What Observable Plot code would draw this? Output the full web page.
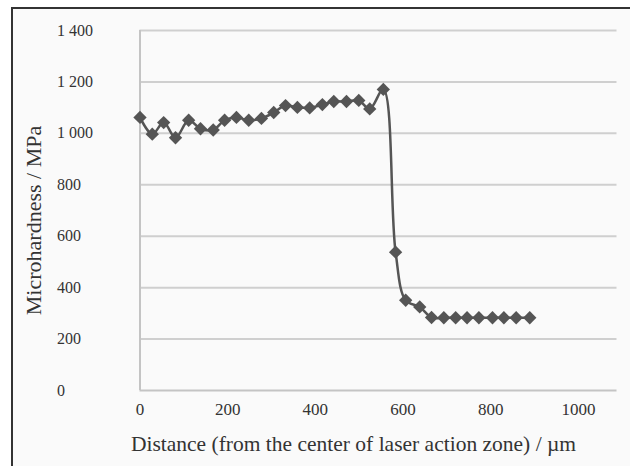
<!DOCTYPE html>
<html>
<head>
<meta charset="utf-8">
<script src="https://cdn.jsdelivr.net/npm/d3@7"></script>
<script src="https://cdn.jsdelivr.net/npm/@observablehq/plot@0.6"></script>
<style>
  html, body { margin: 0; padding: 0; background: #ffffff; }
  #wrap { position: relative; width: 630px; height: 466px; overflow: hidden; }
  #wrap::before {
    content: ""; position: absolute; left: 11px; top: 7px; right: 0; bottom: 0;
    border-left: 2px solid #333; border-top: 2px solid #333; background: #fafafa;
    z-index: 0;
  }
  #wrap svg { position: relative; z-index: 1; background: transparent; }
</style>
</head>
<body>
<div id="wrap"></div>
<script>
// Distance from the center of laser action zone (µm)
const distance = [0, 28, 54, 81, 111, 138, 167, 193, 220, 248, 277, 305, 332, 359, 387, 416, 442, 471, 499, 524,
                  555, 583, 606, 638, 665, 693, 720, 746, 773, 804, 830, 858, 889];
// Microhardness (MPa)
const hardness = [1062, 997, 1042, 983, 1051, 1018, 1013, 1051, 1062, 1051, 1058, 1081, 1108, 1101, 1099, 1112, 1124, 1124, 1128, 1095,
                  1171, 538, 351, 325, 284, 283, 283, 283, 283, 283, 283, 283, 283];
const xTicks = [0, 200, 400, 600, 800, 1000];
const yTicks = [0, 200, 400, 600, 800, 1000, 1200, 1400];
const xTitle = "Distance (from the center of laser action zone) / µm";
const yTitle = "Microhardness / MPa";

const data = distance.map((d, i) => ({x: d, y: hardness[i]}));
const font = "Liberation Serif";
const fmt = d => d3.format(",")(d).replace(",", " ");

const chart = Plot.plot({
  width: 630, height: 466,
  marginLeft: 139.5, marginRight: 13.5, marginTop: 30, marginBottom: 76,
  style: {fontFamily: font, background: "transparent", color: "#333"},
  x: {domain: [0, 1088]},
  y: {domain: [0, 1400]},
  marks: [
    Plot.gridY(yTicks.filter(d => d > 0), {stroke: "#cfcfcf", strokeOpacity: 1, strokeWidth: 2}),
    Plot.ruleX([0], {stroke: "#c4c4c4", strokeWidth: 2}),
    Plot.ruleY([0], {stroke: "#c4c4c4", strokeWidth: 2}),
    Plot.axisY({ticks: yTicks, tickSize: 0, tickPadding: 83, textAnchor: "start", tickFormat: fmt,
                fontSize: 16, fontFamily: font, fill: "#333", label: null}),
    Plot.axisX({ticks: xTicks, tickSize: 0, tickPadding: 12, tickFormat: d => String(d),
                fontSize: 17, fontFamily: font, fill: "#333", label: null}),
    Plot.line(data, {x: "x", y: "y", curve: "catmull-rom", stroke: "#555", strokeWidth: 2.5}),
    Plot.dot(data, {x: "x", y: "y", symbol: "diamond2", r: 6, fill: "#555", stroke: "none"}),
    Plot.text([yTitle], {frameAnchor: "left", textAnchor: "middle", lineAnchor: "middle", rotate: -90,
                         dx: -106, dy: 10, fontSize: 22, fontFamily: font, fill: "#333"}),
    Plot.text([xTitle], {frameAnchor: "bottom", textAnchor: "middle", lineAnchor: "middle",
                         dx: -25, dy: 54, fontSize: 21.5, fontFamily: font, fill: "#333"})
  ]
});
document.getElementById("wrap").appendChild(chart);
</script>
</body>
</html>
